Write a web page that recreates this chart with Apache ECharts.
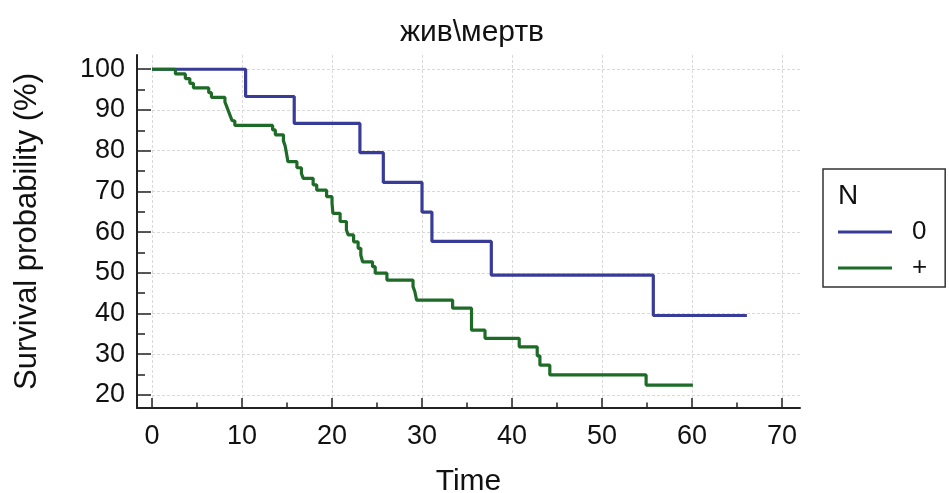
<!DOCTYPE html>
<html>
<head>
<meta charset="utf-8">
<script src="https://cdn.jsdelivr.net/npm/echarts@6/dist/echarts.min.js"></script>
<style>
html,body{margin:0;padding:0;background:#fff;}
#chart{width:949px;height:493px;}
</style>
</head>
<body>
<div id="chart"></div>
<script>
// ---- data ----
const seriesNames = ['0', '+'];
const legendTitle = 'N';
const chartTitle = 'жив\\мертв';
// group "0": event times and survival after each step (%)
const timesZero = [0, 10.4, 15.8, 23.1, 25.7, 30.0, 31.1, 37.7, 55.7, 66.1];
const survZero  = [100, 93.3, 86.7, 79.5, 72.2, 64.9, 57.7, 49.4, 39.5, 39.5];
// group "+"
const timesPlus = [0, 2.6, 3.7, 4.2, 4.6, 6.3, 6.6, 8.1, 8.3, 8.5, 8.7, 8.9, 9.2,
  13.4, 13.7, 14.6, 14.8, 15.0, 15.1, 16.1, 16.6, 16.8, 17.9, 18.3, 19.4, 20.0, 20.1,
  20.9, 21.6, 21.8, 22.4, 22.9, 23.2, 23.4, 24.5, 24.8, 26.1, 29.0, 29.2, 29.4,
  33.4, 35.5, 37.0, 40.8, 42.8, 43.1, 44.2, 54.9, 60.1];
const survPlus  = [100, 98.85, 97.7, 96.55, 95.4, 94.25, 93.1, 91.95, 90.8, 89.65, 88.5, 87.35, 86.2,
  85.1, 83.9, 82.4, 81.1, 78.6, 77.3, 75.8, 74.4, 73.2, 71.6, 70.3, 68.7, 67.1, 64.6,
  62.6, 60.5, 59.3, 57.6, 56.0, 54.3, 52.7, 51.5, 49.9, 48.2, 46.6, 45.4, 43.3,
  41.3, 35.9, 33.9, 31.8, 29.6, 27.3, 24.9, 22.4, 22.4];
// tick values
const xTicks = [0, 10, 20, 30, 40, 50, 60, 70];
const xMinorTicks = [5, 15, 25, 35, 45, 55, 65];
const yTicks = [20, 30, 40, 50, 60, 70, 80, 90, 100];
const yMinorTicks = [25, 35, 45, 55, 65, 75, 85, 95];

const zip = (a, b) => a.map((t, i) => [t, b[i]]);
const FONT = '"Liberation Sans", Arial, sans-serif';
const blue = '#383c98';
const green = '#1d6b26';
const axisColor = '#222';
const xMin = -1.67, xMax = 72.0, yMin = 16.78, yMax = 103.5;

const chart = echarts.init(document.getElementById('chart'), null, {renderer: 'canvas'});
const gridLine = {show: true, lineStyle: {color: '#d9d9d9', type: [3, 2], width: 1}};
chart.setOption({
  animation: false,
  backgroundColor: '#fff',
  title: {
    text: chartTitle, left: 467, top: 13, textAlign: 'center',
    textStyle: {fontFamily: FONT, fontSize: 30, fontWeight: 'normal', color: '#111'}
  },
  graphic: [{
    type: 'text', left: 838, top: 182,
    style: {text: legendTitle, fontFamily: FONT, fontSize: 28, fill: '#111'}
  }],
  legend: {
    orient: 'vertical', left: 823, top: 169,
    padding: [50, 18, 6, 15],
    borderColor: '#333', borderWidth: 1.5,
    icon: 'rect', itemWidth: 54, itemHeight: 3, itemGap: 10,
    data: seriesNames,
    textStyle: {fontFamily: FONT, fontSize: 26, color: '#111', lineHeight: 26, padding: [0, 0, 0, 15]}
  },
  grid: {left: 137, right: 149, top: 55, bottom: 85, outerBoundsMode: 'none', containLabel: false},
  xAxis: [{
    type: 'value', min: xMin, max: xMax,
    name: 'Time', nameLocation: 'middle', nameGap: 59,
    nameTextStyle: {fontFamily: FONT, fontSize: 30, color: '#111'},
    axisLine: {show: true, onZero: false, lineStyle: {color: axisColor, width: 2}},
    axisTick: {show: true, inside: true, length: 10, customValues: xTicks, lineStyle: {color: axisColor, width: 1.5}},
    axisLabel: {customValues: xTicks, fontFamily: FONT, fontSize: 27, color: '#111', margin: 15},
    splitLine: gridLine
  }, {
    type: 'value', min: xMin, max: xMax, position: 'bottom',
    axisLine: {show: false, onZero: false},
    axisTick: {show: true, inside: true, length: 5.5, customValues: xMinorTicks, lineStyle: {color: axisColor, width: 1.5}},
    axisLabel: {show: false},
    splitLine: {show: false}
  }],
  yAxis: [{
    type: 'value', min: yMin, max: yMax,
    name: 'Survival probability (%)', nameLocation: 'middle', nameGap: 94,
    nameTextStyle: {fontFamily: FONT, fontSize: 31, color: '#111'},
    axisLine: {show: true, onZero: false, lineStyle: {color: axisColor, width: 2}},
    axisTick: {show: true, inside: true, length: 14, customValues: yTicks, lineStyle: {color: axisColor, width: 1.5}},
    axisLabel: {customValues: yTicks, fontFamily: FONT, fontSize: 27, color: '#111', margin: 12},
    splitLine: gridLine
  }, {
    type: 'value', min: yMin, max: yMax, position: 'left',
    axisLine: {show: false, onZero: false},
    axisTick: {show: true, inside: true, length: 8, customValues: yMinorTicks, lineStyle: {color: axisColor, width: 1.5}},
    axisLabel: {show: false},
    splitLine: {show: false}
  }],
  series: [{
    name: seriesNames[0], type: 'line', step: 'end', symbol: 'none',
    xAxisIndex: 0, yAxisIndex: 0,
    lineStyle: {color: blue, width: 3.2}, itemStyle: {color: blue},
    data: zip(timesZero, survZero), z: 3
  }, {
    name: seriesNames[1], type: 'line', step: 'end', symbol: 'none',
    xAxisIndex: 0, yAxisIndex: 0,
    lineStyle: {color: green, width: 3.2}, itemStyle: {color: green},
    data: zip(timesPlus, survPlus), z: 4
  }]
});
</script>
</body>
</html>
